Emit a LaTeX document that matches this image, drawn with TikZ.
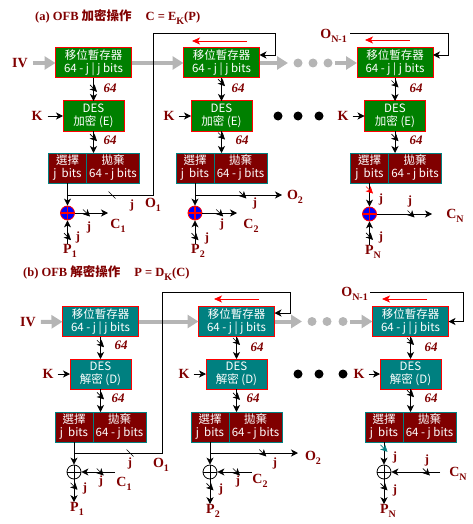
\documentclass[tikz,border=0pt]{standalone}
\usepackage{fontspec}
\setmainfont{Liberation Serif}
\newfontfamily\cjk{Noto Sans CJK TC}
\usepackage{tikz}
\usetikzlibrary{arrows.meta}
\definecolor{MyMaroon}{rgb}{0.5,0,0}
\definecolor{MyGreen}{rgb}{0,0.5,0}
\definecolor{MyTeal}{rgb}{0,0.5,0.5}
\definecolor{MyRed}{rgb}{1,0,0}
\definecolor{MyBlue}{rgb}{0,0,1}
\definecolor{MyGrey}{rgb}{0.71,0.71,0.71}
\newcommand{\sub}[2]{#1\raisebox{-4pt}{\fontsize{10}{10}\selectfont #2}}
\tikzset{
  ttl/.style={text=MyMaroon, font=\bfseries\fontsize{12.5}{14}\selectfont, inner sep=0pt},
  lab/.style={text=MyMaroon, font=\bfseries\fontsize{14}{14}\selectfont, inner sep=0pt},
  jlab/.style={text=MyMaroon, font=\bfseries\fontsize{12.5}{14}\selectfont, inner sep=0pt},
  num/.style={text=MyMaroon, font=\bfseries\itshape\fontsize{13}{14}\selectfont, inner sep=0pt},
  box/.style={line width=1pt, text=white, inner sep=0pt, outer sep=0pt, minimum height=30pt,
    align=center, font=\cjk\fontsize{11.5}{13}\selectfont},
  encbox/.style={box, draw=MyRed, fill=MyGreen},
  decbox/.style={box, draw=MyRed, fill=MyTeal},
  srbox/.style={minimum width=76pt},
  desbox/.style={minimum width=61pt},
  selbox/.style={box, draw=MyTeal, fill=MyMaroon, minimum width=38pt},
  disbox/.style={box, draw=MyTeal, fill=MyMaroon, minimum width=53pt, anchor=west},
  xorenc/.style={circle, draw=MyRed, fill=MyBlue, line width=0.8pt, minimum size=14pt, inner sep=0pt,
    path picture={\draw[MyRed, line width=1.2pt]
      (path picture bounding box.north) -- (path picture bounding box.south)
      (path picture bounding box.west) -- (path picture bounding box.east);}},
  xordec/.style={circle, draw=black, fill=white, line width=0.8pt, minimum size=14pt, inner sep=0pt,
    path picture={\draw[black, line width=0.8pt]
      (path picture bounding box.north) -- (path picture bounding box.south)
      (path picture bounding box.west) -- (path picture bounding box.east);}},
  arr/.style={-{Stealth[length=7pt,width=7pt,inset=2pt]}, line width=0.8pt},
  grayarr/.style={-{Triangle[length=11pt,width=13pt]}, draw=MyGrey, line width=4pt},
  redarr/.style={-{Stealth[length=8pt,width=7pt,inset=2pt]}, draw=MyRed, line width=0.8pt},
  tick/.pic={\draw[line width=0.6pt] (-3.5,-3.5) -- (3.5,3.5);},
}

\begin{document}
\begin{tikzpicture}[x=1pt,y=-1pt]
\useasboundingbox (0,0) rectangle (473,524);
% ---------- (a) OFB encryption ----------
\node[ttl, anchor=west] (ttla) at (35,17) {(a) OFB {\cjk 加密操作}\hspace{14pt}C = \sub{E}{K}(P)};
\node[lab] (iva) at (20,63) {IV};
\node[encbox, srbox] (sra1) at (93.5,63) {移位暫存器\\64 - j | j bits};
\node[encbox, srbox] (sra2) at (221.5,63) {移位暫存器\\64 - j | j bits};
\node[encbox, srbox] (sra3) at (395,63) {移位暫存器\\64 - j | j bits};
\node[encbox, desbox] (desa1) at (93.5,116) {DES\\加密 (E)};
\node[encbox, desbox] (desa2) at (221.5,116) {DES\\加密 (E)};
\node[encbox, desbox] (desa3) at (395,116) {DES\\加密 (E)};
\node[selbox] (sela1) at (67.5,168) {選擇\\j\ \ bits};
\node[disbox] (disa1) at (sela1.east) {拋棄\\64 - j bits};
\node[selbox] (sela2) at (195,168) {選擇\\j\ \ bits};
\node[disbox] (disa2) at (sela2.east) {拋棄\\64 - j bits};
\node[selbox] (sela3) at (369.5,168) {選擇\\j\ \ bits};
\node[disbox] (disa3) at (sela3.east) {拋棄\\64 - j bits};
\node[xorenc] (xora1) at (67.5,213) {};
\node[xorenc] (xora2) at (195,213) {};
\node[xorenc] (xora3) at (369.5,214) {};

% shift registers in a row
\coordinate (gea1) at (288,63);
\coordinate (gsa1) at (335,63);
\draw[grayarr, shorten <=5pt] (iva) -- (sra1);
\draw[grayarr] (sra1) -- (sra2);
\draw[grayarr] (sra2) -- (gea1);
\fill[MyGrey] (298,63) circle (4.5pt) (313,63) circle (4.5pt) (328,63) circle (4.5pt);
\draw[grayarr] (gsa1) -- (sra3);
\draw[redarr] (247,41) -- (192,41);
\draw[redarr] (410,40) -- (365,40);
\fill (278,116) circle (4.5pt) (298,116) circle (4.5pt) (319,116) circle (4.5pt);

% column 1
\draw[arr] (sra1) -- (desa1) pic[pos=.45]{tick};
\node[num] (n64a1) at (110,88) {64};
\node[lab] (ka1) at (37,116) {K};
\draw[arr, shorten <=5pt] (ka1) -- (desa1);
\draw[arr] (desa1) -- (desa1.south |- disa1.north) pic[pos=.3]{tick};
\node[num] (n64a2) at (110,140) {64};
\draw[arr] (sela1) -- (xora1);
\coordinate (ja1) at (67.5,195);
\draw[arr] (ja1) -| (153,33) -| ([xshift=15.5pt,yshift=8pt]sra2.east) -- ([yshift=8pt]sra2.east);
\pic at (112,195) {tick};
\node[jlab] (jfa1) at (132,205) {j};
\node[lab] (oa1) at (153,205) {\sub{O}{1}};
\coordinate (cea1) at (108,213);
\draw[arr] (xora1) -- (cea1) pic[pos=.35]{tick};
\node[jlab] (jca1) at (89,227) {j};
\node[lab] (ca1) at (118,226) {\sub{C}{1}};
\node[lab] (pa1) at (70,251) {\sub{P}{1}};
\draw[arr] (xora1 |- pa1.north) -- (xora1) pic[pos=.32]{tick};
\node[jlab] (jpa1) at (78,237) {j};

% column 2
\draw[arr] (sra2) -- (desa2) pic[pos=.2]{tick};
\node[num] (n64a3) at (238,88) {64};
\node[lab] (ka2) at (169,116) {K};
\draw[arr, shorten <=4pt] (ka2) -- (desa2);
\draw[arr] (desa2) -- (desa2.south |- disa2.north) pic[pos=.23]{tick};
\node[num] (n64a4) at (242,140) {64};
\draw[arr] (sela2) -- (xora2);
\coordinate (ja2) at (195,195);
\coordinate (oea2) at (282,195);
\draw[arr] (ja2) -- (oea2) pic[pos=.55]{tick};
\node[jlab] (jfa2) at (255,203) {j};
\node[lab] (oa2) at (295,197) {\sub{O}{2}};
\coordinate (cea2) at (237,213);
\draw[arr] (xora2) -- (cea2) pic[pos=.5]{tick};
\node[jlab] (jca2) at (222,224) {j};
\node[lab] (ca2) at (251,226) {\sub{C}{2}};
\node[lab] (pa2) at (198,251) {\sub{P}{2}};
\draw[arr] (xora2 |- pa2.north) -- (xora2) pic[pos=.32]{tick};
\node[jlab] (jpa2) at (207,238) {j};

% column N
\node[lab, anchor=east] (ona3) at (347,36) {\sub{O}{N-1}};
\coordinate (fa3) at (350,33);
\draw[arr] (fa3) -| ([xshift=15pt,yshift=8pt]sra3.east) -- ([yshift=8pt]sra3.east);
\draw[arr] (sra3) -- (desa3) pic[pos=.26]{tick};
\node[num] (n64a5) at (416,88) {64};
\node[lab] (ka3) at (343,116) {K};
\draw[arr, shorten <=4pt] (ka3) -- (desa3);
\draw[arr] (desa3) -- (desa3.south |- disa3.north) pic[pos=.3]{tick};
\node[num] (n64a6) at (416,140) {64};
\draw[arr] (sela3) -- (xora3) pic[pos=.3, color=MyRed]{tick};
\node[jlab] (jsa3) at (381,199) {j};
\coordinate (cea3) at (432,214);
\draw[arr] (xora3) -- (cea3) pic[pos=.62]{tick};
\node[jlab] (jca3) at (410,201) {j};
\node[lab] (ca3) at (455,216) {\sub{C}{N}};
\node[lab] (pa3) at (373,252) {\sub{P}{N}};
\draw[arr] (xora3 |- pa3.north) -- (xora3) pic[pos=.37]{tick};
\node[jlab] (jpa3) at (381,237) {j};

% ---------- (b) OFB decryption ----------
\node[ttl, anchor=west] (ttlb) at (23,273) {(b) OFB {\cjk 解密操作}\hspace{14pt}P = \sub{D}{K}(C)};
\node[lab] (ivb) at (28,322) {IV};
\node[decbox, srbox] (srb1) at (100.5,321.5) {移位暫存器\\64 - j | j bits};
\node[decbox, srbox] (srb2) at (236.5,321.5) {移位暫存器\\64 - j | j bits};
\node[decbox, srbox] (srb3) at (410.5,321.5) {移位暫存器\\64 - j | j bits};
\node[decbox, desbox] (desb1) at (100.5,374) {DES\\解密 (D)};
\node[decbox, desbox] (desb2) at (236.5,374) {DES\\解密 (D)};
\node[decbox, desbox] (desb3) at (410.5,374) {DES\\解密 (D)};
\node[selbox] (selb1) at (74,427) {選擇\\j\ \ bits};
\node[disbox] (disb1) at (selb1.east) {拋棄\\64 - j bits};
\node[selbox] (selb2) at (210,427) {選擇\\j\ \ bits};
\node[disbox] (disb2) at (selb2.east) {拋棄\\64 - j bits};
\node[selbox] (selb3) at (384,427) {選擇\\j\ \ bits};
\node[disbox] (disb3) at (selb3.east) {拋棄\\64 - j bits};
\node[xordec] (xorb1) at (74,472) {};
\node[xordec] (xorb2) at (210,472) {};
\node[xordec] (xorb3) at (384,472) {};

% shift registers in a row
\coordinate (geb1) at (302,321.5);
\coordinate (gsb1) at (350,321.5);
\draw[grayarr, shorten <=5pt] (ivb) -- (srb1);
\draw[grayarr] (srb1) -- (srb2);
\draw[grayarr] (srb2) -- (geb1);
\fill[MyGrey] (312,321.5) circle (4.5pt) (327,321.5) circle (4.5pt) (343,321.5) circle (4.5pt);
\draw[grayarr] (gsb1) -- (srb3);
\draw[redarr] (259,299) -- (214,299);
\draw[redarr] (427,299) -- (382,299);
\fill (298,374) circle (4.5pt) (319,374) circle (4.5pt) (343,374) circle (4.5pt);

% column 1
\draw[arr] (srb1) -- (desb1) pic[pos=.32]{tick};
\node[num] (n64b1) at (121,345) {64};
\node[lab] (kb1) at (48,374) {K};
\draw[arr, shorten <=4pt] (kb1) -- (desb1);
\draw[arr] (desb1) -- (desb1.south |- disb1.north) pic[pos=.3]{tick};
\node[num] (n64b2) at (118,398) {64};
\draw[arr] (selb1) -- (xorb1);
\coordinate (jb1) at (74,453);
\draw[arr] (jb1) -| (162,292) -| ([xshift=16pt,yshift=8.5pt]srb2.east) -- ([yshift=8.5pt]srb2.east);
\pic at (130,453) {tick};
\node[jlab] (jfb1) at (130,463) {j};
\node[lab] (ob1) at (161,465) {\sub{O}{1}};
\coordinate (csb1) at (115,472);
\draw[arr] (csb1) -- (xorb1) pic[pos=.44]{tick};
\node[jlab] (jcb1) at (101,481) {j};
\node[lab] (cb1) at (124,484) {\sub{C}{1}};
\node[lab] (pb1) at (77,509) {\sub{P}{1}};
\draw[arr] (xorb1) -- (xorb1 |- pb1.north) pic[pos=.3]{tick};
\node[jlab] (jpb1) at (85,488) {j};

% column 2
\draw[arr] (srb2) -- (desb2) pic[pos=.22]{tick};
\node[num] (n64b3) at (257,347) {64};
\node[lab] (kb2) at (184,374) {K};
\draw[arr, shorten <=4pt] (kb2) -- (desb2);
\draw[arr] (desb2) -- (desb2.south |- disb2.north) pic[pos=.32]{tick};
\node[num] (n64b4) at (253,398) {64};
\draw[arr] (selb2) -- (xorb2);
\coordinate (jb2) at (210,453);
\coordinate (oeb2) at (298,453);
\draw[arr] (jb2) -- (oeb2) pic[pos=.6]{tick};
\node[jlab] (jfb2) at (275,463) {j};
\node[lab] (ob2) at (313,458) {\sub{O}{2}};
\coordinate (csb2) at (252,472);
\draw[arr] (csb2) -- (xorb2) pic[pos=.45]{tick};
\node[jlab] (jcb2) at (238,481) {j};
\node[lab] (cb2) at (260,481) {\sub{C}{2}};
\node[lab] (pb2) at (213,511) {\sub{P}{2}};
\draw[arr] (xorb2) -- (xorb2 |- pb2.north) pic[pos=.3]{tick};
\node[jlab] (jpb2) at (221,489) {j};

% column N
\node[lab, anchor=east] (onb3) at (368,294) {\sub{O}{N-1}};
\coordinate (fb3) at (370,292);
\draw[arr] (fb3) -| ([xshift=15pt]srb3.east) -- (srb3.east);
\draw[arr] (srb3) -- (desb3) pic[pos=.22]{tick};
\node[num] (n64b5) at (431,347) {64};
\node[lab] (kb3) at (359,374) {K};
\draw[arr, shorten <=4pt] (kb3) -- (desb3);
\draw[arr] (desb3) -- (desb3.south |- disb3.north) pic[pos=.2]{tick};
\node[num] (n64b6) at (431,398) {64};
\draw[arr] (selb3) -- (xorb3) pic[pos=.28, color=MyTeal]{tick};
\node[jlab] (jsb3) at (395,457) {j};
\coordinate (csb3) at (440,472);
\draw[arr] (csb3) -- (xorb3) pic[pos=.28]{tick};
\node[jlab] (jcb3) at (427,460) {j};
\node[lab] (cb3) at (458,474) {\sub{C}{N}};
\node[lab] (pb3) at (388,511) {\sub{P}{N}};
\draw[arr] (xorb3) -- (xorb3 |- pb3.north) pic[pos=.3]{tick};
\node[jlab] (jpb3) at (395,490) {j};
\end{tikzpicture}
\end{document}
